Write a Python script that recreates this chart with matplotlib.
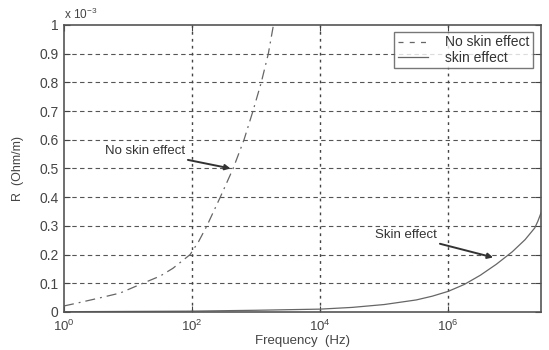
import numpy as np
import matplotlib
matplotlib.use("Agg")
import matplotlib.pyplot as plt
from matplotlib.ticker import FixedLocator, NullLocator

# data (R in units of 1e-3 Ohm/m)
noskin_f = [1, 1.6, 3.6, 7.5, 17, 31.6, 50, 93, 126, 170, 275, 437, 646, 891, 1202, 1549, 1862]
noskin_R = [0.021, 0.031, 0.049, 0.066, 0.100, 0.125, 0.152, 0.20, 0.245, 0.30, 0.40, 0.50, 0.60, 0.70, 0.80, 0.90, 1.0]

skin_f = [1, 100, 1e3, 1e4, 3.16e4, 1e5, 3.16e5, 5.6e5, 1e6, 1.78e6, 3.16e6, 5.6e6, 1e7, 1.58e7, 2.24e7, 2.5e7, 2.8e7]
skin_R = [0.001, 0.003, 0.006, 0.010, 0.016, 0.026, 0.042, 0.055, 0.072, 0.096, 0.128, 0.166, 0.210, 0.252, 0.293, 0.316, 0.345]

xticks = [1, 1e2, 1e4, 1e6]
xticklabels = [r"$10^0$", r"$10^2$", r"$10^4$", r"$10^6$"]
yticks = [0, 0.1, 0.2, 0.3, 0.4, 0.5, 0.6, 0.7, 0.8, 0.9, 1.0]
yticklabels = ["0", "0.1", "0.2", "0.3", "0.4", "0.5", "0.6", "0.7", "0.8", "0.9", "1"]

plt.rcParams['font.family'] = ['Liberation Sans', 'DejaVu Sans']
plt.rcParams['mathtext.fontset'] = 'custom'
plt.rcParams['mathtext.rm'] = 'Liberation Sans'
plt.rcParams['mathtext.it'] = 'Liberation Sans'

tc = '#444444'
fig = plt.figure(figsize=(5.49, 3.5), dpi=100)
ax = fig.add_axes([0.1166, 0.1086, 0.9854 - 0.1166, 0.9286 - 0.1086])

l1, = ax.plot(noskin_f, noskin_R, color='#666666', lw=0.9, ls=(0, (8, 4, 1.5, 4)))
l2, = ax.plot(skin_f, skin_R, color='#666666', lw=0.9, ls='-')

ax.set_xscale('log')
ax.set_xlim(1, 2.8e7)
ax.set_ylim(0, 1.0)
ax.xaxis.set_major_locator(FixedLocator(xticks))
ax.xaxis.set_minor_locator(NullLocator())
ax.set_xticklabels(xticklabels)
ax.set_yticks(yticks)
ax.set_yticklabels(yticklabels)
ax.tick_params(direction='in', length=4, colors=tc, labelsize=10, top=True, right=True)
ax.tick_params(axis='x', pad=5, labelsize=9.5)
ax.tick_params(axis='y', pad=4)

for y in yticks[1:-1]:
    ax.axhline(y, color='#555555', lw=0.8, ls=(0, (4, 3)), zorder=0)
for x in xticks[1:]:
    ax.axvline(x, color='#444444', lw=1.0, ls=(0, (2, 3)), zorder=0)

for s in ax.spines.values():
    s.set_color('#555555')
    s.set_linewidth(1.2)

ax.set_xlabel('Frequency  (Hz)', fontsize=9.5, color=tc, labelpad=0.5)
ax.set_ylabel('R  (Ohm/m)', fontsize=9, color=tc, labelpad=11)
ax.text(0.0, 1.012, r'x $10^{-3}$', transform=ax.transAxes, fontsize=8.5, color=tc, va='bottom', ha='left')

leg = ax.legend([l1, l2], ['No skin effect', 'skin effect'], loc='upper right',
                bbox_to_anchor=(0.997, 1.0), fontsize=10, frameon=True, fancybox=False,
                handlelength=2.2, borderpad=0.25, labelspacing=0.1, handletextpad=1.2)
leg.get_frame().set_edgecolor('#555555')
leg.get_frame().set_linewidth(1.0)
leg.legend_handles[0].set_linestyle((0, (4, 5)))
for t in leg.get_texts():
    t.set_color('#333333')

ax.annotate('No skin effect', xy=(10 ** 2.6, 0.50), xytext=(10 ** 0.64, 0.56),
            fontsize=9.5, color='#333333', va='center', ha='left',
            arrowprops=dict(arrowstyle='-|>', color='#333333', lw=1.4, shrinkA=0, shrinkB=0,
                            mutation_scale=8))
ax.annotate('Skin effect', xy=(10 ** 6.7, 0.19), xytext=(10 ** 4.86, 0.268),
            fontsize=9.5, color='#333333', va='center', ha='left',
            arrowprops=dict(arrowstyle='-|>', color='#333333', lw=1.4, shrinkA=0, shrinkB=0,
                            mutation_scale=8))

fig.savefig('out.png', dpi=100)
